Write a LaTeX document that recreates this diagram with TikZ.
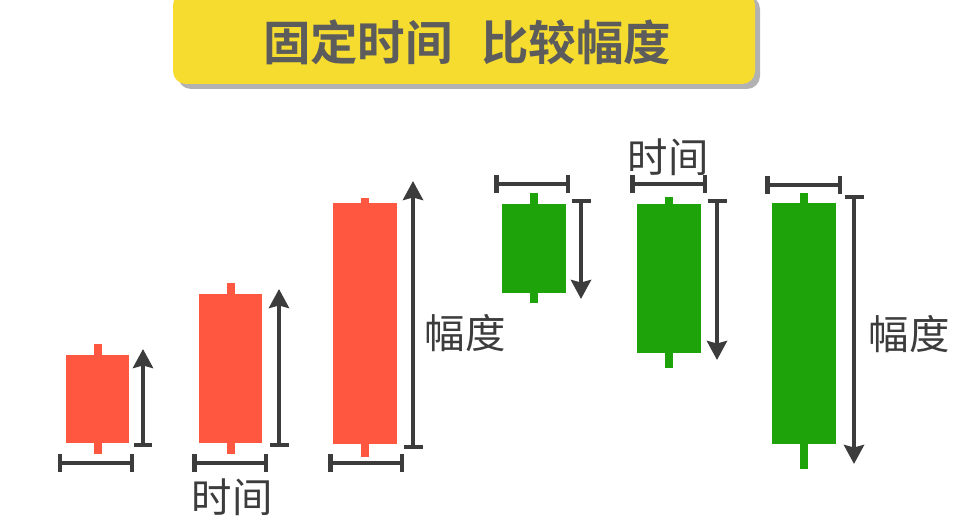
\documentclass[tikz,border=0pt]{standalone}
\usepackage{fontspec}
\usepackage{xcolor}
\usepackage{tikz}
\usetikzlibrary{positioning,arrows.meta}
\newfontfamily\cjk{Noto Sans CJK SC}
\newfontfamily\cjkbold{Noto Sans CJK SC Bold}
\definecolor{bannerfill}{HTML}{F7DC30}
\definecolor{titlegray}{HTML}{5C5C5C}
\definecolor{linegray}{HTML}{3C3C3C}
\definecolor{upred}{HTML}{FF5740}
\definecolor{downgreen}{HTML}{1EA30B}
\tikzset{
  redbody/.style={rectangle,fill=upred,minimum width=1.28cm,inner sep=0pt},
  greenbody/.style={rectangle,fill=downgreen,minimum width=1.28cm,inner sep=0pt},
  redwick/.style={line width=0.16cm,upred},
  greenwick/.style={line width=0.16cm,downgreen},
  timebar/.style={{Bar[width=0.36cm]}-{Bar[width=0.36cm]},line width=0.09cm,linegray},
  rangeup/.style={{Bar[width=0.38cm]}-{Stealth[width=0.4cm,length=0.38cm,inset=0.05cm]},
                  line width=0.09cm,linegray},
  lbl/.style={font=\cjk\fontsize{23}{26}\selectfont,text=linegray,inner sep=0pt},
}

\begin{document}
\begin{tikzpicture}[x=0.02cm,y=-0.02cm]
  \useasboundingbox (0,0) rectangle (954,527);
  % banner
  \fill[black!30,rounded corners=0.26cm] (178,-4) rectangle (760,89);
  \fill[bannerfill,rounded corners=0.26cm] (173,-8) rectangle (755,84);
  \node[font=\cjkbold\fontsize{27}{30}\selectfont,text=titlegray] (title) at (467,42)
       {固定时间\hspace{0.6em}比较幅度};

  % red candles
  \node[redbody,minimum height=1.76cm] (r1) at (97.5,399) {};
  \draw[redwick] (r1.north) -- ++(0,-11);
  \draw[redwick] (r1.south) -- ++(0,11);
  \node[redbody,minimum height=2.98cm] (r2) at (230.5,368.5) {};
  \draw[redwick] (r2.north) -- ++(0,-11);
  \draw[redwick] (r2.south) -- ++(0,11);
  \node[redbody,minimum height=4.82cm] (r3) at (365,323.5) {};
  \draw[redwick] (r3.north) -- ++(0,-5);
  \draw[redwick] (r3.south) -- ++(0,13);

  % green candles
  \node[greenbody,minimum height=1.78cm] (g1) at (534,248.5) {};
  \draw[greenwick] (g1.north) -- ++(0,-11);
  \draw[greenwick] (g1.south) -- ++(0,10);
  \node[greenbody,minimum height=2.98cm] (g2) at (669,278.5) {};
  \draw[greenwick] (g2.north) -- ++(0,-7);
  \draw[greenwick] (g2.south) -- ++(0,15);
  \node[greenbody,minimum height=4.82cm] (g3) at (803.5,323.5) {};
  \draw[greenwick] (g3.north) -- ++(0,-10);
  \draw[greenwick] (g3.south) -- ++(0,25);

  % time bars
  \coordinate (t1a) at (58,463);  \coordinate (t1b) at (134,463);
  \coordinate (t2a) at (192,463); \coordinate (t2b) at (268,463);
  \coordinate (t3a) at (328,463); \coordinate (t3b) at (404,463);
  \coordinate (t4a) at (494,184); \coordinate (t4b) at (570,184);
  \coordinate (t5a) at (630,184); \coordinate (t5b) at (707,184);
  \coordinate (t6a) at (765,185); \coordinate (t6b) at (842,185);
  \draw[timebar] (t1a) -- (t1b);
  \draw[timebar] (t2a) -- (t2b);
  \draw[timebar] (t3a) -- (t3b);
  \draw[timebar] (t4a) -- (t4b);
  \draw[timebar] (t5a) -- (t5b);
  \draw[timebar] (t6a) -- (t6b);

  % range arrows
  \coordinate (a1lo) at (143,447); \coordinate (a1hi) at (143,349);
  \coordinate (a2lo) at (279,447); \coordinate (a2hi) at (279,289);
  \coordinate (a3lo) at (413,449); \coordinate (a3hi) at (413,181);
  \coordinate (a4hi) at (581,199); \coordinate (a4lo) at (581,299);
  \coordinate (a5hi) at (717,199); \coordinate (a5lo) at (717,360);
  \coordinate (a6hi) at (854,195); \coordinate (a6lo) at (854,464);
  \draw[rangeup] (a1lo) -- (a1hi);
  \draw[rangeup] (a2lo) -- (a2hi);
  \draw[rangeup] (a3lo) -- (a3hi);
  \draw[rangeup] (a4hi) -- (a4lo);
  \draw[rangeup] (a5hi) -- (a5lo);
  \draw[rangeup] (a6hi) -- (a6lo);

  % labels
  \node[lbl] (time1) at (232,497) {时间};
  \node[lbl] (time2) at (668,157) {时间};
  \node[lbl] (amp1) at (465,333) {幅度};
  \node[lbl] (amp2) at (909,334) {幅度};
\end{tikzpicture}
\end{document}
